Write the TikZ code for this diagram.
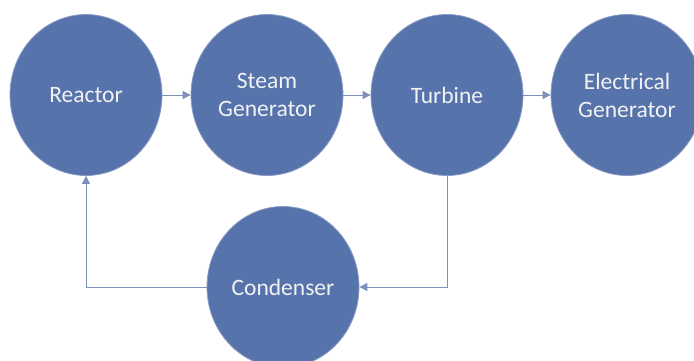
\documentclass[tikz,border=0pt]{standalone}
\usepackage{fontspec}
\setmainfont{Carlito}
\usetikzlibrary{shapes.geometric,arrows.meta}
\definecolor{nodeblue}{HTML}{5673AC}
\definecolor{nodeedge}{HTML}{8A9CC4}
\definecolor{linecol}{HTML}{7D90B8}
\definecolor{txt}{HTML}{F2F2F2}
\begin{document}
\begin{tikzpicture}[x=1pt,y=-1pt,
  stage/.style={ellipse, fill=nodeblue, draw=nodeedge, line width=0.8pt,
    minimum width=152pt, minimum height=161pt, inner sep=0pt,
    align=center, text=txt, font=\fontsize{23.5}{28}\selectfont},
  conn/.style={draw=linecol, line width=1pt, -{Triangle[length=8pt,width=8pt]}}]
\useasboundingbox (0,0) rectangle (694,360);
\clip (0,0) rectangle (694,360);
\node[stage] (rea) at (86,95) {Reactor};
\node[stage] (ste) at (267,95) {Steam\\Generator};
\node[stage] (tur) at (447,95) {Turbine};
\node[stage] (ele) at (627,95) {Electrical\\Generator};
\node[stage] (con) at (283,287) {Condenser};
\draw[conn] (rea.east) -- (ste.west);
\draw[conn] (ste.east) -- (tur.west);
\draw[conn] (tur.east) -- (ele.west);
\draw[conn] (tur.south) |- (con.east);
\draw[conn] (con.west) -| (rea.south);
\end{tikzpicture}
\end{document}
